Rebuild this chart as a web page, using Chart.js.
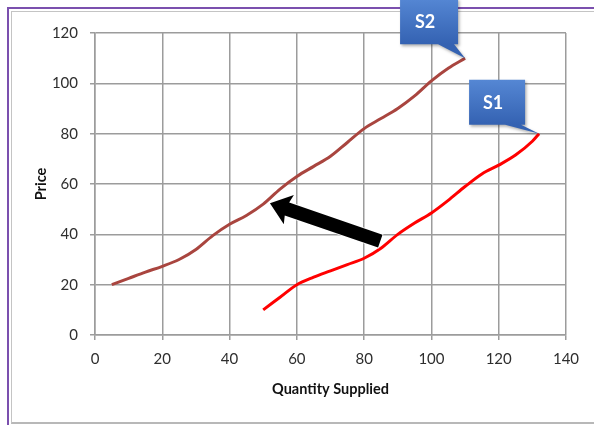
<!DOCTYPE html>
<html>
<head>
<meta charset="utf-8">
<script src="https://cdn.jsdelivr.net/npm/chart.js@4/dist/chart.umd.min.js"></script>
<style>
  html, body { margin: 0; padding: 0; background: #ffffff; }
  #wrap { position: relative; width: 594px; height: 425px; overflow: hidden; }
  #outer { position: absolute; left: 7px; top: 7px; width: 700px; height: 500px;
           border-left: 2px solid #7B50AE; border-top: 2px solid #7B50AE; }
  #inner { position: absolute; left: 11px; top: 11px; width: 700px; height: 410px;
           border-left: 1px solid #c4c4c4; border-top: 1px solid #c4c4c4; border-bottom: 2px solid #b8b8b8; }
  canvas { position: absolute; left: 0; top: 0; }
</style>
</head>
<body>
<div id="wrap">
  <div id="outer"></div>
  <div id="inner"></div>
  <canvas id="c" width="594" height="425"></canvas>
</div>
<script>
// Supply curve S2 (shifted left)
const s2Qty   = [5, 10, 15, 20, 25, 30, 35, 40, 45, 50, 55, 60, 65, 70, 75, 80, 85, 90, 95, 100, 105, 110];
const s2Price = [20, 22.5, 25, 27.3, 30, 34, 39.5, 44, 47.5, 52, 58, 63, 67, 71, 76.5, 82, 86, 90, 95, 101, 106, 110];

// Supply curve S1 (original)
const s1Qty   = [50, 55, 60, 65, 70, 75, 80, 85, 90, 95, 100, 105, 110, 115, 120, 125, 130, 132];
const s1Price = [10, 15, 20, 23, 25.5, 28, 30.5, 34.5, 40, 44.5, 48.5, 53.5, 59, 64, 67.5, 71.5, 77, 80];

// Axis ticks
const qtyTicks   = [0, 20, 40, 60, 80, 100, 120, 140];
const priceTicks = [0, 20, 40, 60, 80, 100, 120];

// Shift arrow: from a point on S1 towards S2 (quantity, price)
const arrowFrom = [84.8, 37.3];
const arrowTo   = [52, 52.4];

// Curve labels
const curveNames = ['S2', 'S1'];

const toPoints = (xs, ys) => xs.map((x, i) => ({ x: x, y: ys[i] }));

const GRID = '#9c9c9c';
const FONT = 'Lato, "Open Sans", "DejaVu Sans", sans-serif';

// Thick block arrow drawn in data space
const arrowPlugin = {
  id: 'shiftArrow',
  afterDatasetsDraw(chart) {
    const { ctx, scales: { x, y } } = chart;
    const x0 = x.getPixelForValue(arrowFrom[0]), y0 = y.getPixelForValue(arrowFrom[1]);
    const x1 = x.getPixelForValue(arrowTo[0]),   y1 = y.getPixelForValue(arrowTo[1]);
    const dx = x1 - x0, dy = y1 - y0, len = Math.hypot(dx, dy);
    const ux = dx / len, uy = dy / len, nx = -uy, ny = ux;
    const shaftHalf = 6.8, headHalf = 15.5, headLen = 18;
    const bx = x1 - ux * headLen, by = y1 - uy * headLen;
    ctx.save();
    ctx.beginPath();
    ctx.moveTo(x0 + nx * shaftHalf, y0 + ny * shaftHalf);
    ctx.lineTo(bx + nx * shaftHalf, by + ny * shaftHalf);
    ctx.lineTo(bx + nx * headHalf - ux * 2, by + ny * headHalf - uy * 2);
    ctx.lineTo(x1, y1);
    ctx.lineTo(bx - nx * headHalf - ux * 2, by - ny * headHalf - uy * 2);
    ctx.lineTo(bx - nx * shaftHalf, by - ny * shaftHalf);
    ctx.lineTo(x0 - nx * shaftHalf, y0 - ny * shaftHalf);
    ctx.closePath();
    ctx.fillStyle = '#000000';
    ctx.strokeStyle = '#ffffff';
    ctx.lineWidth = 1.5;
    ctx.lineJoin = 'miter';
    ctx.stroke();
    ctx.fill();
    ctx.restore();
  }
};

// Blue callout boxes pointing at the last point of each curve
const calloutPlugin = {
  id: 'curveCallouts',
  afterDraw(chart) {
    const { ctx } = chart;
    const boxes = [
      { ds: 0, dx0: -65, dx1: -7, dy0: -60, dy1: -14 },
      { ds: 1, dx0: -70, dx1: -14, dy0: -54, dy1: -9 }
    ];
    boxes.forEach(b => {
      const meta = chart.getDatasetMeta(b.ds);
      const last = meta.data[meta.data.length - 1];
      const tx = last.x, ty = last.y;
      const l = tx + b.dx0, r = tx + b.dx1, t = ty + b.dy0, bt = ty + b.dy1;
      ctx.save();
      const g = ctx.createLinearGradient(0, t, 0, bt);
      g.addColorStop(0, '#5587D4');
      g.addColorStop(1, '#3462B2');
      ctx.shadowColor = 'rgba(0,0,0,0.3)';
      ctx.shadowBlur = 3;
      ctx.shadowOffsetX = 1.5;
      ctx.shadowOffsetY = 2;
      ctx.fillStyle = g;
      ctx.beginPath();
      ctx.moveTo(l, t);
      ctx.lineTo(r, t);
      ctx.lineTo(r, bt);
      ctx.lineTo(r - 4, bt);
      ctx.lineTo(tx, ty);
      ctx.lineTo(r - 20, bt);
      ctx.lineTo(l, bt);
      ctx.closePath();
      ctx.fill();
      ctx.shadowColor = 'transparent';
      ctx.fillStyle = '#ffffff';
      ctx.font = 'bold 18px ' + FONT;
      ctx.textAlign = 'center';
      ctx.textBaseline = 'middle';
      ctx.fillText(curveNames[b.ds], (l + r) / 2 - 4, (t + bt) / 2 + 1);
      ctx.restore();
    });
  }
};

new Chart(document.getElementById('c'), {
  type: 'line',
  data: {
    datasets: [
      {
        label: curveNames[0],
        data: toPoints(s2Qty, s2Price),
        borderColor: '#A9453F',
        borderWidth: 3,
        pointRadius: 0,
        cubicInterpolationMode: 'monotone',
        fill: false
      },
      {
        label: curveNames[1],
        data: toPoints(s1Qty, s1Price),
        borderColor: '#FF0000',
        borderWidth: 3,
        pointRadius: 0,
        cubicInterpolationMode: 'monotone',
        fill: false
      }
    ]
  },
  options: {
    responsive: false,
    animation: false,
    devicePixelRatio: 1,
    layout: { padding: { top: 33, right: 28, left: 0, bottom: 0 } },
    plugins: { legend: { display: false }, tooltip: { enabled: false } },
    scales: {
      x: {
        type: 'linear',
        min: 0, max: 140,
        afterBuildTicks: s => { s.ticks = qtyTicks.map(v => ({ value: v })); },
        afterFit: s => { s.height = 90; },
        grid: { color: GRID, lineWidth: 1.5, tickLength: 5, tickColor: GRID, tickWidth: 1.5 },
        border: { color: GRID, width: 1.5 },
        ticks: { color: '#2e2e2e', padding: 10, font: { family: FONT, size: 15 } },
        title: {
          display: true, text: 'Quantity Supplied', color: '#111111',
          padding: { top: 0, bottom: 27 },
          font: { family: FONT, size: 14.5, weight: 'bold' }
        }
      },
      y: {
        min: 0, max: 120,
        afterBuildTicks: s => { s.ticks = priceTicks.map(v => ({ value: v })); },
        afterFit: s => { s.width = 95; },
        grid: { color: GRID, lineWidth: 1.5, tickLength: 5, tickColor: GRID, tickWidth: 1.5 },
        border: { color: GRID, width: 1.5 },
        ticks: { color: '#2e2e2e', padding: 12, font: { family: FONT, size: 15 } },
        title: {
          display: true, text: 'Price', color: '#111111',
          padding: { top: 33, bottom: 0 },
          font: { family: FONT, size: 14.5, weight: 'bold' }
        }
      }
    }
  },
  plugins: [arrowPlugin, calloutPlugin]
});
</script>
</body>
</html>
